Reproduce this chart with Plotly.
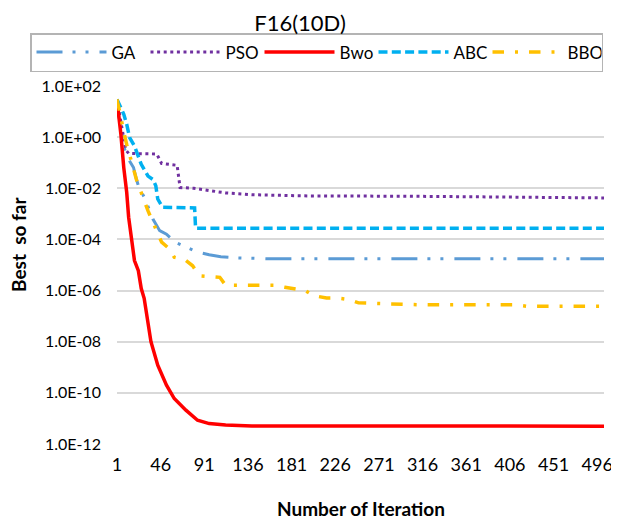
import plotly.graph_objects as go

# ---------------- data ----------------
x_tick_vals = [1, 46, 91, 136, 181, 226, 271, 316, 361, 406, 451, 496]
y_tick_vals = [1e2, 1e0, 1e-2, 1e-4, 1e-6, 1e-8, 1e-10, 1e-12]
y_tick_text = ["1.0E+02", "1.0E+00", "1.0E-02", "1.0E-04", "1.0E-06",
               "1.0E-08", "1.0E-10", "1.0E-12"]

ga_iter = [1, 3, 6, 8, 11, 18, 21, 23, 30, 38, 45, 52, 61, 73, 84, 96, 108, 125, 160, 503]
ga_val = [30, 6, 2, 0.45, 0.18, 0.065, 0.023, 0.0126, 3.8e-3, 6.3e-4, 2.2e-4, 1.6e-4,
          7.8e-5, 4.9e-5, 3.2e-5, 2.5e-5, 2.1e-5, 1.9e-5, 1.74e-5, 1.74e-5]

pso_iter = [1, 6, 8, 10, 13, 42, 47, 63, 64, 65, 66, 80, 100, 113, 140, 200, 300, 345, 400, 503]
pso_val = [30, 2.3, 0.63, 0.32, 0.23, 0.22, 0.093, 0.079, 0.04, 0.02, 1.07e-2, 1.0e-2,
           7.9e-3, 6.6e-3, 5.6e-3, 5.0e-3, 4.9e-3, 4.7e-3, 4.4e-3, 4.2e-3]

bwo_iter = [1, 5, 8, 11, 13, 16, 19, 23, 26, 29, 32, 36, 43, 52, 60, 72, 84, 96, 113, 140, 503]
bwo_val = [26, 1.3, 6.3e-2, 7e-3, 7.4e-4, 1.05e-4, 1.5e-5, 6e-6, 1.2e-6, 5e-7, 8e-8, 1e-8,
           1.2e-9, 2e-10, 6e-11, 2.1e-11, 8.5e-12, 6.3e-12, 5.5e-12, 5.1e-12, 5.0e-12]

abc_iter = [1, 4, 8, 11, 14, 19, 23, 26, 33, 38, 41, 42, 43, 48, 81, 82, 503]
abc_val = [30, 17, 7.8, 3.2, 0.95, 0.45, 0.18, 0.087, 0.03, 0.022, 0.0126, 7.9e-3,
           3.8e-3, 1.8e-3, 1.7e-3, 2.75e-4, 2.75e-4]

bbo_iter = [1, 2, 6, 9, 11, 14, 19, 21, 25, 30, 33, 38, 43, 47, 55, 60, 71, 79, 86, 94,
            107, 113, 163, 174, 187, 195, 204, 217, 228, 240, 250, 311, 411, 423, 503]
bbo_val = [30, 19, 4.3, 1.1, 0.52, 0.18, 0.042, 0.022, 7.9e-3, 2.8e-3, 1.3e-3, 4.7e-4,
           1.6e-4, 7.8e-5, 4.3e-5, 2.0e-5, 1.6e-5, 9.3e-6, 3.8e-6, 3.5e-6, 3.3e-6, 1.6e-6,
           1.6e-6, 1.35e-6, 1.15e-6, 1.0e-6, 6.3e-7, 5.1e-7, 5.1e-7, 4.5e-7, 3.3e-7,
           2.8e-7, 2.8e-7, 2.45e-7, 2.45e-7]

# ---------------- figure ----------------
FONT = "Lato"
series = [
    ("GA", ga_iter, ga_val, "#5B9BD5", 3, "26px,10px,3px,10px,3px,11px"),
    ("PSO", pso_iter, pso_val, "#7030A0", 3, "3px,3.6px"),
    ("Bwo", bwo_iter, bwo_val, "#FF0000", 3.5, "solid"),
    ("ABC", abc_iter, abc_val, "#00B0F0", 3.5, "9px,4.3px"),
    ("BBO", bbo_iter, bbo_val, "#FFC000", 3.5, "11.5px,11px,3px,11px"),
]

fig = go.Figure()
for name, xs, ys, color, width, dash in series:
    fig.add_trace(go.Scatter(x=xs, y=ys, mode="lines", name=name,
                             line=dict(color=color, width=width, dash=dash)))

# the page body adds an 8px offset, so the figure is laid out 8px smaller
OFF = 8
W, H = 619 - OFF, 520 - OFF
ML, MR, MT, MB = 117 - OFF, 15, 78, 76
PW, PH = W - ML - MR, H - MT - MB
BOTTOM = 444 - OFF  # pixel row of the plot bottom inside the figure

fig.update_layout(
    width=W, height=H,
    margin=dict(l=ML, r=MR, t=MT, b=MB, pad=0, autoexpand=False),
    paper_bgcolor="white", plot_bgcolor="white",
    font=dict(family=FONT, color="#000000"),
    title=dict(text="F16(10D)", x=(300 - OFF) / W, xref="container", xanchor="center",
               y=1 - (23 - OFF) / H, yref="container", yanchor="middle",
               font=dict(family=FONT, size=22, color="#000000")),
    showlegend=True,
    legend=dict(orientation="h", xref="paper", yref="paper",
                x=((30 - OFF) - ML) / PW, y=1 + (MT - (33 - OFF)) / PH,
                xanchor="left", yanchor="top",
                bgcolor="white", bordercolor="#b4b4b4", borderwidth=1.5,
                font=dict(family=FONT, size=17, color="#000000"),
                itemwidth=70, entrywidth=29, entrywidthmode="pixels",
                traceorder="normal"),
    xaxis=dict(range=[1, 503], tickmode="array", tickvals=x_tick_vals,
               ticktext=[str(v) for v in x_tick_vals], showgrid=False,
               showline=False, zeroline=False, ticks="",
               tickfont=dict(family=FONT, size=18, color="#000000"),
               ticklabelstandoff=8),
    yaxis=dict(type="log", range=[-12, 2], tickmode="array", tickvals=y_tick_vals,
               ticktext=y_tick_text, showgrid=True, gridcolor="#d9d9d9", gridwidth=1.5,
               showline=False, zeroline=False, ticks="",
               tickfont=dict(family=FONT, size=16, color="#000000"),
               ticklabelstandoff=15),
    annotations=[
        dict(text="<b>Number of Iteration</b>", xref="paper", yref="paper",
             x=0.5, y=(BOTTOM - (508 - OFF)) / PH, xanchor="center", yanchor="middle",
             showarrow=False, font=dict(family=FONT, size=19, color="#000000")),
        dict(text="<b>Best\u00a0 so far</b>", xref="paper", yref="paper",
             x=(19 - 117) / PW, y=(444 - 245) / PH, xanchor="center", yanchor="middle",
             textangle=-90, showarrow=False,
             font=dict(family=FONT, size=19, color="#000000")),
    ],
)

fig.write_html("out.html")
